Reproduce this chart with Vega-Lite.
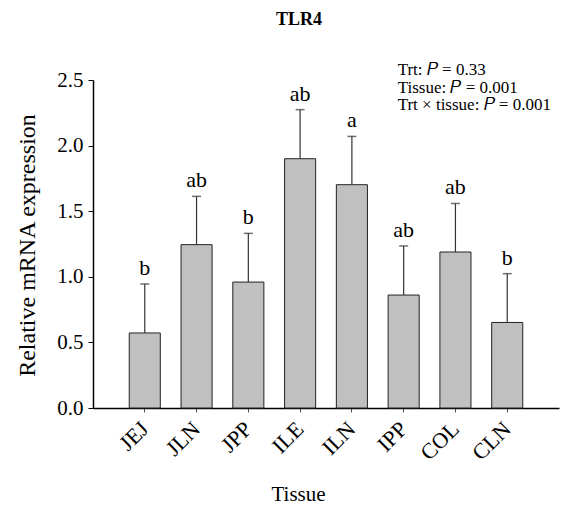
{
  "$schema": "https://vega.github.io/schema/vega-lite/v6.json",
  "width": 466,
  "height": 328,
  "autosize": {"type": "none"},
  "padding": {"left": 93, "top": 80, "right": 12, "bottom": 108},
  "background": "white",
  "title": {
    "text": "TLR4",
    "font": "Liberation Serif",
    "fontSize": 18,
    "fontWeight": "bold",
    "color": "black",
    "anchor": "middle",
    "dx": -27,
    "offset": 32
  },
  "config": {
    "view": {"stroke": null},
    "font": "Liberation Serif"
  },
  "datasets": {
    "bars": [
      {"tissue": "JEJ", "mean": 0.572, "err": 0.945, "letter": "b"},
      {"tissue": "JLN", "mean": 1.245, "err": 1.613, "letter": "ab"},
      {"tissue": "JPP", "mean": 0.96, "err": 1.331, "letter": "b"},
      {"tissue": "ILE", "mean": 1.9, "err": 2.274, "letter": "ab"},
      {"tissue": "ILN", "mean": 1.702, "err": 2.07, "letter": "a"},
      {"tissue": "IPP", "mean": 0.861, "err": 1.235, "letter": "ab"},
      {"tissue": "COL", "mean": 1.189, "err": 1.559, "letter": "ab"},
      {"tissue": "CLN", "mean": 0.652, "err": 1.024, "letter": "b"}
    ],
    "notes": [
      {"tissue": "IPP", "y": 2.578, "label": "Trt: 𝑃 = 0.33"},
      {"tissue": "IPP", "y": 2.441, "label": "Tissue: 𝑃 = 0.001"},
      {"tissue": "IPP", "y": 2.308, "label": "Trt × tissue: 𝑃 = 0.001"}
    ]
  },
  "encoding": {
    "x": {
      "field": "tissue",
      "type": "nominal",
      "sort": ["JEJ", "JLN", "JPP", "ILE", "ILN", "IPP", "COL", "CLN"],
      "scale": {"paddingInner": 0.4, "paddingOuter": 0.7},
      "axis": {
        "title": "Tissue",
        "titleFont": "Liberation Serif",
        "titleFontSize": 21,
        "titleFontWeight": "normal",
        "titleColor": "black",
        "titleX": 205,
        "titleY": 92,
        "titleBaseline": "alphabetic",
        "labelFont": "Liberation Serif",
        "labelFontSize": 22,
        "labelColor": "black",
        "labelAngle": -45,
        "labelAlign": "right",
        "labelBaseline": "middle",
        "labelPadding": 13,
        "tickSize": 4,
        "tickColor": "#555555",
        "domainColor": "black",
        "domainWidth": 1.5
      }
    }
  },
  "layer": [
    {
      "data": {"name": "bars"},
      "mark": {"type": "bar", "fill": "#c0c0c0", "stroke": "#222222", "strokeWidth": 1},
      "encoding": {
        "y": {
          "field": "mean",
          "type": "quantitative",
          "scale": {"domain": [0, 2.5], "nice": false, "zero": true},
          "axis": {
            "title": "Relative mRNA expression",
            "titleFont": "Liberation Serif",
            "titleFontSize": 24,
            "titleFontWeight": "normal",
            "titleColor": "black",
            "titleX": -66,
            "titleY": 165,
            "titleBaseline": "middle",
            "labelFont": "Liberation Serif",
            "labelFontSize": 21,
            "labelColor": "black",
            "labelPadding": 5,
            "format": ".1f",
            "values": [0, 0.5, 1, 1.5, 2, 2.5],
            "grid": false,
            "tickSize": 5,
            "tickColor": "black",
            "domainColor": "black",
            "domainWidth": 1.5
          }
        }
      }
    },
    {
      "data": {"name": "bars"},
      "mark": {"type": "rule", "color": "#333333", "strokeWidth": 1.2},
      "encoding": {
        "y": {"field": "mean", "type": "quantitative", "scale": {"domain": [0, 2.5], "nice": false}},
        "y2": {"field": "err"}
      }
    },
    {
      "data": {"name": "bars"},
      "mark": {"type": "tick", "color": "#333333", "size": 9, "thickness": 1.5, "orient": "horizontal"},
      "encoding": {
        "y": {"field": "err", "type": "quantitative", "scale": {"domain": [0, 2.5], "nice": false}}
      }
    },
    {
      "data": {"name": "bars"},
      "mark": {"type": "text", "font": "Liberation Serif", "fontSize": 22, "baseline": "alphabetic", "dy": -9, "color": "black"},
      "encoding": {
        "y": {"field": "err", "type": "quantitative", "scale": {"domain": [0, 2.5], "nice": false}},
        "text": {"field": "letter"}
      }
    },
    {
      "data": {"name": "notes"},
      "mark": {"type": "text", "font": "Liberation Serif", "fontSize": 17, "align": "left", "baseline": "middle", "dx": -6, "color": "black", "clip": false},
      "encoding": {
        "y": {"field": "y", "type": "quantitative", "scale": {"domain": [0, 2.5], "nice": false}},
        "text": {"field": "label"}
      }
    }
  ]
}
